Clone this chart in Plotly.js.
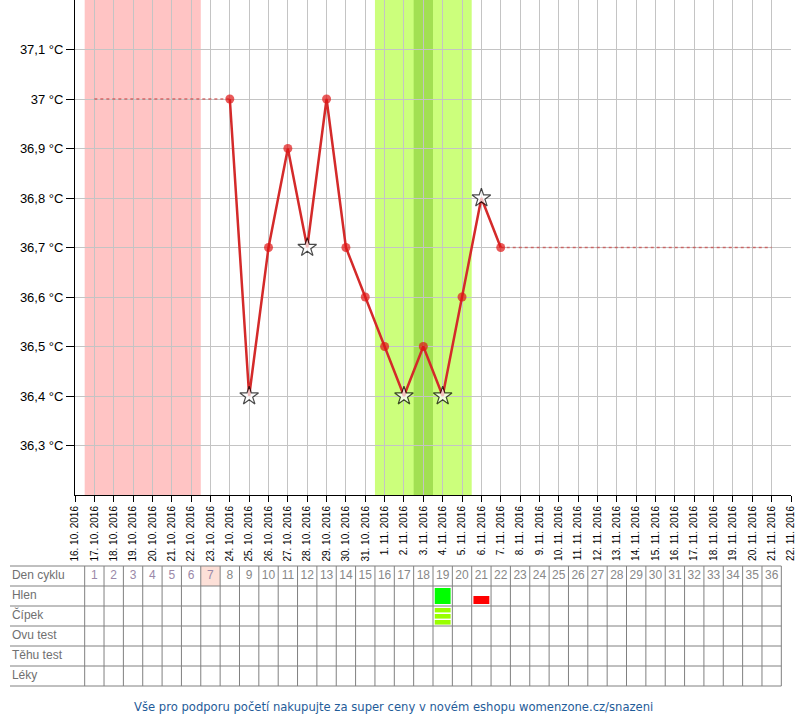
<!DOCTYPE html>
<html>
<head>
<meta charset="utf-8">
<script src="https://cdn.plot.ly/plotly-3.0.1.min.js"></script>
<style>html,body{margin:0;padding:0;background:#fff;}#chart{width:800px;height:720px;}</style>
</head>
<body>
<div id="chart"></div>
<script>
// ---- data ----
var axisStart = '2016-10-16';
var axisEnd = '2016-11-22';
var cycleStart = '2016-10-17';
var cycleEnd = '2016-11-21';
var measureDates = ['2016-10-24','2016-10-25','2016-10-26','2016-10-27','2016-10-28','2016-10-29','2016-10-30','2016-10-31','2016-11-01','2016-11-02','2016-11-03','2016-11-04','2016-11-05','2016-11-06','2016-11-07'];
var temps = [37.0, 36.4, 36.7, 36.9, 36.7, 37.0, 36.7, 36.6, 36.5, 36.4, 36.5, 36.4, 36.6, 36.8, 36.7];
var disturbed = [false, true, false, false, true, false, false, false, false, true, false, true, false, true, false];
var menstruationDates = ['2016-10-17','2016-10-18','2016-10-19','2016-10-20','2016-10-21','2016-10-22'];
var fertileDates = ['2016-11-01','2016-11-02','2016-11-03','2016-11-04','2016-11-05'];
var ovulationDate = '2016-11-03';
var yTickVals = [36.3, 36.4, 36.5, 36.6, 36.7, 36.8, 36.9, 37.0, 37.1];
var yTickText = ['36,3 °C','36,4 °C','36,5 °C','36,6 °C','36,7 °C','36,8 °C','36,9 °C','37 °C','37,1 °C'];
var rowLabels = ['Den cyklu','Hlen','Čípek','Ovu test','Těhu test','Léky'];
var cycleDays = [1,2,3,4,5,6,7,8,9,10,11,12,13,14,15,16,17,18,19,20,21,22,23,24,25,26,27,28,29,30,31,32,33,34,35,36];
var menstruationCycleDays = [1,2,3,4,5,6,7];
var todayCycleDay = 7;
var hlenDays = [19, 21];
var hlenKinds = ['egg', 'dry'];
var cipekDays = [19];
var footerText = 'Vše pro podporu početí nakupujte za super ceny v novém eshopu womenzone.cz/snazeni';

// ---- helpers ----
function shift(dateStr, hours) {
  var p = dateStr.split('-');
  var ms = Date.UTC(+p[0], +p[1]-1, +p[2]) + hours*3600000;
  return new Date(ms).toISOString().slice(0,19).replace('T',' ');
}

var gridCol = '#c4c4c4';
var tableLine = '#808080';

var shapes = [];
// background bands (below grid)
shapes.push({type:'rect', xref:'x', yref:'y', x0:shift(menstruationDates[0],-12), x1:shift(menstruationDates[menstruationDates.length-1],12), y0:36.2, y1:37.2, fillcolor:'#ffc4c4', line:{width:0}, layer:'below'});
shapes.push({type:'rect', xref:'x', yref:'y', x0:shift(fertileDates[0],-12), x1:shift(fertileDates[fertileDates.length-1],12), y0:36.2, y1:37.2, fillcolor:'#ccff7c', line:{width:0}, layer:'below'});
shapes.push({type:'rect', xref:'x', yref:'y', x0:shift(ovulationDate,-12), x1:shift(ovulationDate,12), y0:36.2, y1:37.2, fillcolor:'#a2e052', line:{width:0}, layer:'below'});

// table
var labelLeft = -3.359;
var lastEdge = cycleDays[cycleDays.length-1] + 0.5;
shapes.push({type:'rect', xref:'x2', yref:'y2', x0:todayCycleDay-0.5, x1:todayCycleDay+0.5, y0:0, y1:1, fillcolor:'#fde0d8', line:{width:0}, layer:'below'});
for (var r = 0; r <= rowLabels.length; r++) {
  shapes.push({type:'line', xref:'x2', yref:'y2', x0:labelLeft, x1:lastEdge, y0:r, y1:r, line:{color:tableLine, width:1}});
}
for (var i = 0; i < cycleDays.length; i++) {
  var xe = cycleDays[i] - 0.5;
  shapes.push({type:'line', xref:'x2', yref:'y2', x0:xe, x1:xe, y0:0, y1:rowLabels.length, line:{color:tableLine, width:1}});
}
shapes.push({type:'line', xref:'x2', yref:'y2', x0:lastEdge, x1:lastEdge, y0:0, y1:rowLabels.length, line:{color:tableLine, width:1}});
// Hlen marks
for (var h = 0; h < hlenDays.length; h++) {
  var d = hlenDays[h];
  if (hlenKinds[h] === 'egg') {
    shapes.push({type:'rect', xref:'x2', yref:'y2', x0:d-0.41, x1:d+0.41, y0:1.1, y1:1.9, fillcolor:'#00ff00', line:{width:0}});
  } else {
    shapes.push({type:'rect', xref:'x2', yref:'y2', x0:d-0.41, x1:d+0.41, y0:1.5, y1:1.9, fillcolor:'#ff0000', line:{width:0}});
  }
}
// Čípek marks
for (var c = 0; c < cipekDays.length; c++) {
  var dc = cipekDays[c];
  [[2.1,2.32],[2.4,2.63],[2.7,2.93]].forEach(function(b){
    shapes.push({type:'rect', xref:'x2', yref:'y2', x0:dc-0.41, x1:dc+0.41, y0:b[0], y1:b[1], fillcolor:'#99ff00', line:{width:0}});
  });
}

var traces = [];
// dotted extensions
traces.push({x:[cycleStart, measureDates[0]], y:[temps[0], temps[0]], mode:'lines', line:{color:'rgba(200,70,70,0.75)', width:1.5, dash:'dot'}, hoverinfo:'skip', showlegend:false});
traces.push({x:[measureDates[measureDates.length-1], cycleEnd], y:[temps[temps.length-1], temps[temps.length-1]], mode:'lines', line:{color:'rgba(200,70,70,0.75)', width:1.5, dash:'dot'}, hoverinfo:'skip', showlegend:false});
// main curve
traces.push({
  x: measureDates, y: temps, mode:'lines+markers',
  line:{color:'#d42a2a', width:2.5},
  marker:{
    symbol: disturbed.map(function(s){return s ? 'star' : 'circle';}),
    size: disturbed.map(function(s){return s ? 14 : 9;}),
    color: disturbed.map(function(s){return s ? '#ffffff' : '#e01414';}),
    line:{color: disturbed.map(function(s){return s ? '#000000' : '#e01414';}), width: disturbed.map(function(s){return s ? 1.2 : 0;})}
  },
  hoverinfo:'skip', showlegend:false, cliponaxis:false
});
// table texts
traces.push({
  x: cycleDays, y: cycleDays.map(function(){return 0.5;}), xaxis:'x2', yaxis:'y2',
  mode:'text', text: cycleDays.map(String),
  textfont:{family:'Liberation Sans, Arial, sans-serif', size:12, color: cycleDays.map(function(d){return menstruationCycleDays.indexOf(d) >= 0 ? '#9a88a8' : '#888888';})},
  hoverinfo:'skip', showlegend:false
});
traces.push({
  x: rowLabels.map(function(){return labelLeft + 0.1;}), y: rowLabels.map(function(_, i){return i + 0.5;}), xaxis:'x2', yaxis:'y2',
  mode:'text', text: rowLabels, textposition:'middle right',
  textfont:{family:'Liberation Sans, Arial, sans-serif', size:12, color:'#707070'},
  hoverinfo:'skip', showlegend:false, cliponaxis:false
});

var layout = {
  width:800, height:720,
  margin:{l:0, r:0, t:0, b:0},
  paper_bgcolor:'#ffffff', plot_bgcolor:'rgba(0,0,0,0)',
  showlegend:false,
  font:{family:'Liberation Sans, Arial, sans-serif', color:'#000'},
  xaxis:{
    type:'date', domain:[75/800, 791/800], range:[axisStart, axisEnd],
    tick0:axisStart, dtick:86400000, tickformat:'%-d. %-m. %Y', tickangle:-90,
    tickfont:{size:10, color:'#000'},
    showgrid:true, gridcolor:gridCol, gridwidth:1,
    showline:true, linecolor:'#000', linewidth:1,
    ticks:'outside', ticklen:6, tickcolor:'#000',
    zeroline:false, fixedrange:true
  },
  yaxis:{
    domain:[1-495/720, 1], range:[36.2, 37.2],
    tickvals:yTickVals, ticktext:yTickText,
    tickfont:{size:13, color:'#000'},
    showgrid:true, gridcolor:gridCol, gridwidth:1,
    showline:true, linecolor:'#000', linewidth:1,
    ticks:'outside', ticklen:8, tickcolor:'#000',
    zeroline:false, fixedrange:true
  },
  xaxis2:{
    domain:[10/800, 782/800], range:[labelLeft, 36.535], anchor:'y2',
    showgrid:false, zeroline:false, showticklabels:false, showline:false, ticks:'', fixedrange:true
  },
  yaxis2:{
    domain:[1-687/720, 1-565/720], range:[6.05, -0.05], anchor:'x2',
    showgrid:false, zeroline:false, showticklabels:false, showline:false, ticks:'', fixedrange:true
  },
  shapes: shapes,
  annotations:[{
    xref:'paper', yref:'paper', x:393/800, y:1-707/720, xanchor:'center', yanchor:'middle',
    text: footerText, showarrow:false,
    font:{family:'DejaVu Sans, sans-serif', size:11.6, color:'#1f5c99'}
  }]
};

Plotly.newPlot('chart', traces, layout, {staticPlot:true, displayModeBar:false});
</script>
</body>
</html>
